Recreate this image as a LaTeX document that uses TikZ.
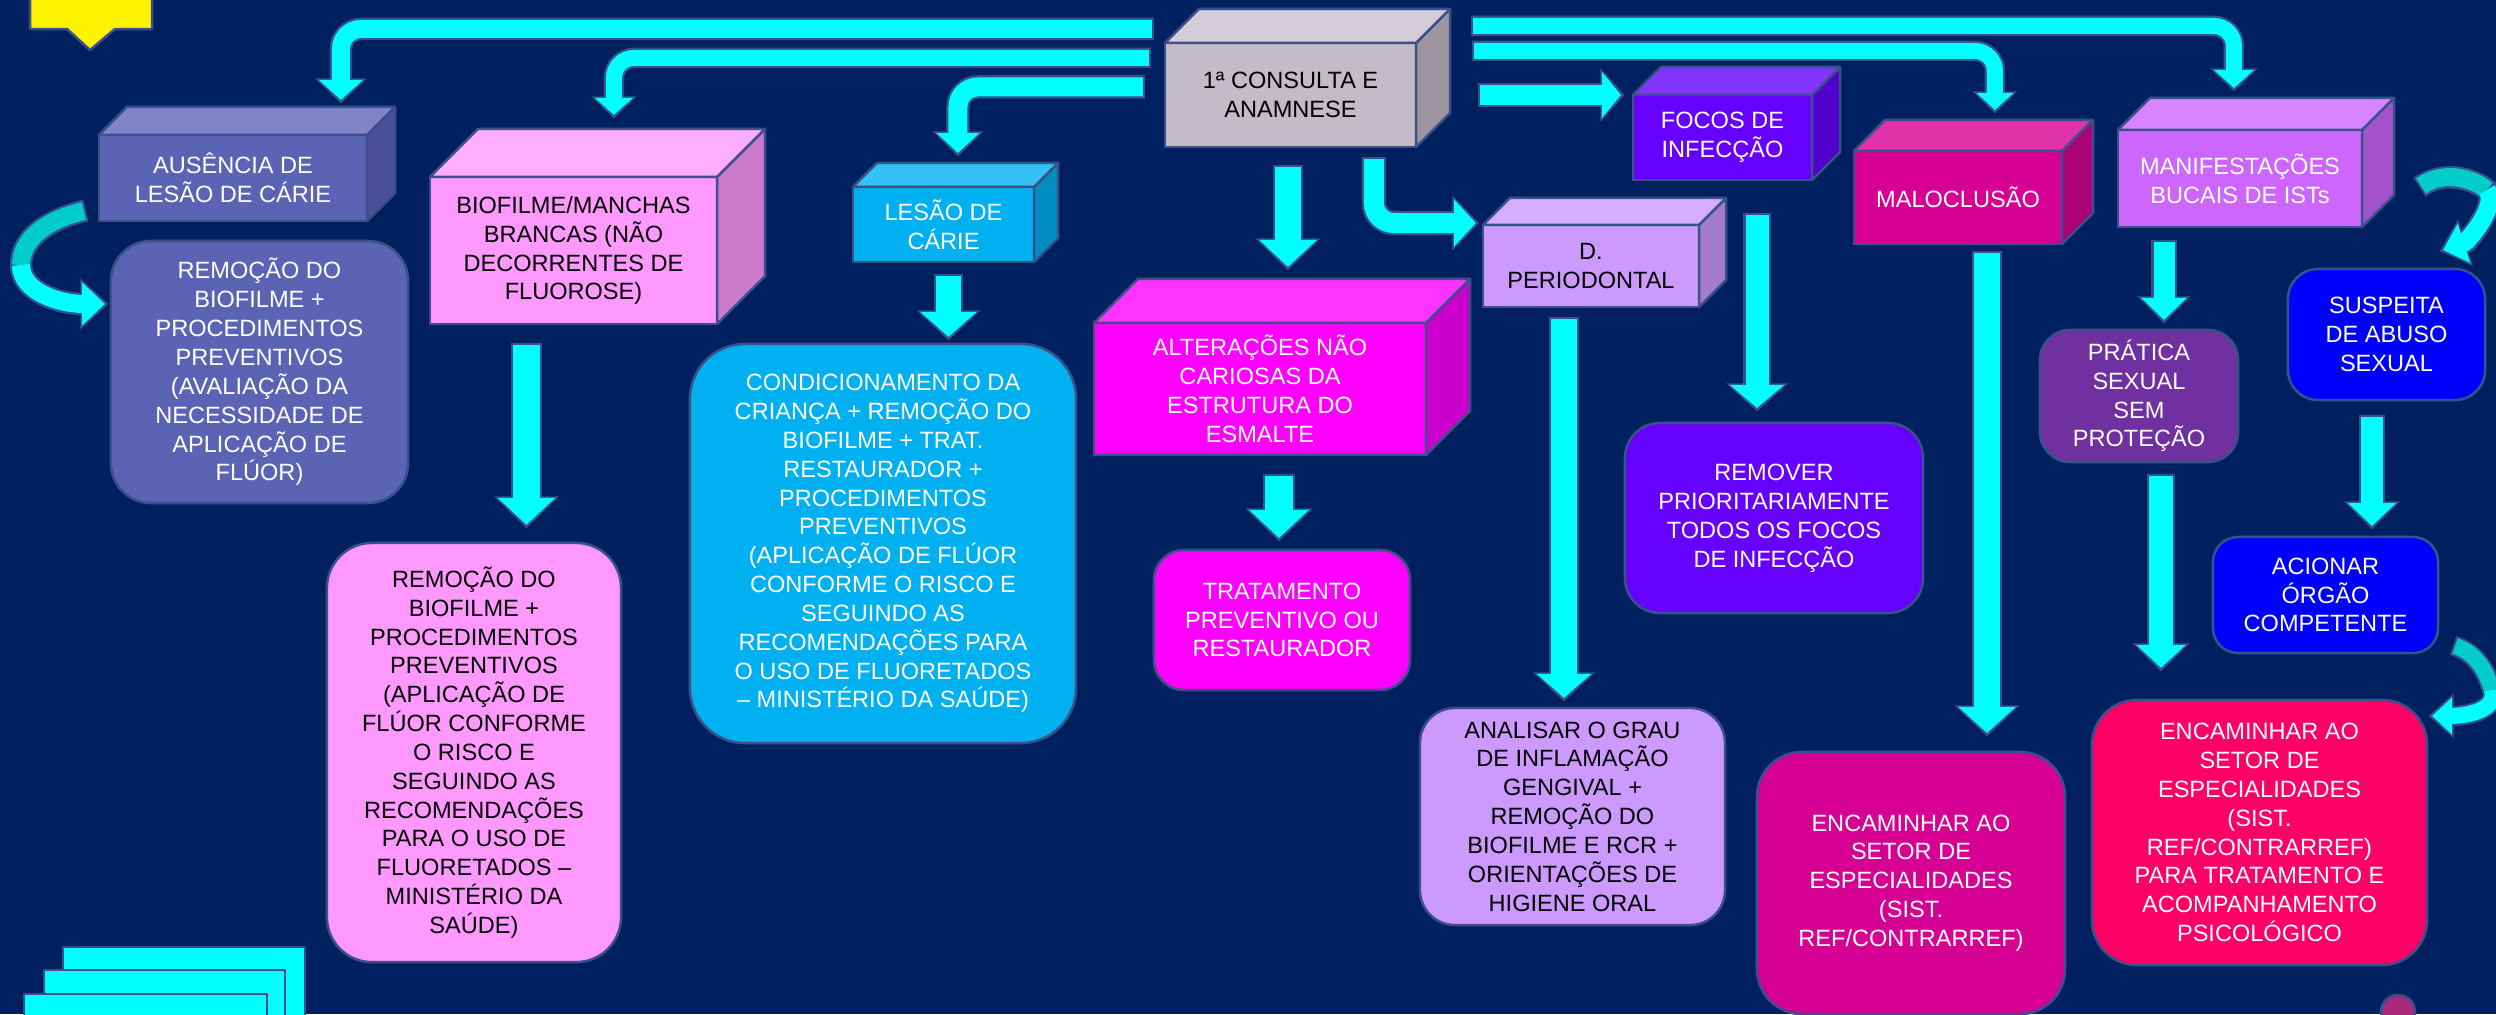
\documentclass[tikz,border=0pt]{standalone}
\usepackage{fontspec}
\setmainfont{Liberation Sans}
\usetikzlibrary{arrows.meta}

\definecolor{bg}{HTML}{002060}
\definecolor{outl}{HTML}{3A5089}
\definecolor{arrowcyan}{HTML}{00FFFF}
\definecolor{arrowteal}{HTML}{00CCCC}
\definecolor{ausF}{HTML}{5B63B5}\definecolor{ausT}{HTML}{7F85C8}\definecolor{ausS}{HTML}{4A5096}
\definecolor{bioF}{HTML}{FF99FF}\definecolor{bioT}{HTML}{FFADFF}\definecolor{bioS}{HTML}{CC7ACC}
\definecolor{lesF}{HTML}{00B0F0}\definecolor{lesT}{HTML}{33C0F3}\definecolor{lesS}{HTML}{008DC0}
\definecolor{conF}{HTML}{C3BBC6}\definecolor{conT}{HTML}{D4CCD7}\definecolor{conS}{HTML}{9D96A0}
\definecolor{altF}{HTML}{FF00FF}\definecolor{altT}{HTML}{FF33FF}\definecolor{altS}{HTML}{CC00CC}
\definecolor{perF}{HTML}{CC99FF}\definecolor{perT}{HTML}{D6ADFF}\definecolor{perS}{HTML}{A37ACC}
\definecolor{focF}{HTML}{6600FF}\definecolor{focT}{HTML}{8533FF}\definecolor{focS}{HTML}{5200CC}
\definecolor{malF}{HTML}{D60093}\definecolor{malT}{HTML}{DE33A9}\definecolor{malS}{HTML}{AB0076}
\definecolor{manF}{HTML}{CC66FF}\definecolor{manT}{HTML}{D685FF}\definecolor{manS}{HTML}{A352CC}
\definecolor{praF}{HTML}{7030A0}
\definecolor{encRF}{HTML}{FF0066}
\definecolor{bluF}{HTML}{0000FF}
\definecolor{dotc}{HTML}{AA2878}

\tikzset{
  lbl/.style={draw=outl, line width=0.25mm, inner sep=0pt, outer sep=0pt,
    align=center, font=\fontsize{6.7pt}{8.2pt}\selectfont},
  plate/.style={draw=outl, line width=0.25mm, line join=round},
}

% top and right faces of a box drawn behind a front-face node
\newcommand\cubesides[4]{%
  \draw[plate, fill=#3] (#1.north west) -- ++(#2,-#2)
    -- ([shift={(#2,-#2)}]#1.north east) -- (#1.north east) -- cycle;
  \draw[plate, fill=#4] (#1.north east) -- ([shift={(#2,-#2)}]#1.north east)
    -- ([shift={(#2,-#2)}]#1.south east) -- (#1.south east) -- cycle;}

% block arrow: shaft width, head width, head length (px), path
\newcommand\fatarrow[4]{%
  \pgfmathsetlengthmacro\faSW{#1*0.1mm}%
  \pgfmathsetlengthmacro\faSWo{#1*0.1mm+0.45mm}%
  \pgfmathsetlengthmacro\faHW{#2*0.1mm}%
  \pgfmathsetlengthmacro\faHWo{#2*0.1mm+0.7mm}%
  \pgfmathsetlengthmacro\faHL{#3*0.1mm}%
  \pgfmathsetlengthmacro\faHLo{#3*0.1mm+0.5mm}%
  \draw[outl, line width=\faSWo, rounded corners=2mm,
    -{Triangle[width=\faHWo,length=\faHLo]}, shorten >=-0.35mm, shorten <=-0.2mm] #4;
  \draw[arrowcyan, line width=\faSW, rounded corners=2mm,
    -{Triangle[width=\faHW,length=\faHL]}] #4;}

\begin{document}
\begin{tikzpicture}[x=0.01cm, y=-0.01cm]
\path[use as bounding box] (0,0) rectangle (2496,1014);
\clip (0,0) rectangle (2496,1014);
\fill[bg] (0,0) rectangle (2496,1014);

% corner decorations
\draw[plate, fill=yellow] (30,-10) -- (30,29) -- (67,29) -- (90,50) -- (115,29) -- (152,29) -- (152,-10) -- cycle;
\draw[plate, fill=arrowcyan] (63,947) rectangle (305,1030);
\draw[plate, fill=arrowcyan] (44,970) rectangle (285,1030);
\draw[plate, fill=arrowcyan] (24,994) rectangle (267,1030);
\draw[plate, fill=dotc] (2398,1012) circle[radius=1.7mm];

% ---------- boxes ----------
\node[lbl, fill=conF, text=black, minimum width=2.51cm, minimum height=1.04cm] (consulta) at (1290.5,95) {1ª CONSULTA E\\ANAMNESE};
\cubesides{consulta}{34}{conT}{conS}

\node[lbl, fill=ausF, text=white, minimum width=2.68cm, minimum height=0.86cm] (ausencia) at (233,178) {AUSÊNCIA DE\\LESÃO DE CÁRIE};
\cubesides{ausencia}{28}{ausT}{ausS}
\node[lbl, fill=ausF, text=white, rounded corners=4mm, minimum width=2.97cm, minimum height=2.62cm] (remA) at (259.5,372)
  {REMOÇÃO DO\\BIOFILME +\\PROCEDIMENTOS\\PREVENTIVOS\\(AVALIAÇÃO DA\\NECESSIDADE DE\\APLICAÇÃO DE\\FLÚOR)};

\node[lbl, fill=bioF, text=black, minimum width=2.87cm, minimum height=1.47cm] (biofilme) at (573.5,250.5) {BIOFILME/MANCHAS\\BRANCAS (NÃO\\DECORRENTES DE\\FLUOROSE)};
\cubesides{biofilme}{48}{bioT}{bioS}
\node[lbl, fill=bioF, text=black, rounded corners=4.5mm, minimum width=2.94cm, minimum height=4.19cm] (remB) at (474,752.5)
  {REMOÇÃO DO\\BIOFILME +\\PROCEDIMENTOS\\PREVENTIVOS\\(APLICAÇÃO DE\\FLÚOR CONFORME\\O RISCO E\\SEGUINDO AS\\RECOMENDAÇÕES\\PARA O USO DE\\FLUORETADOS –\\MINISTÉRIO DA\\SAÚDE)};

\node[lbl, fill=lesF, text=white, minimum width=1.81cm, minimum height=0.75cm] (lesao) at (943.5,224.5) {LESÃO DE\\CÁRIE};
\cubesides{lesao}{24}{lesT}{lesS}
\node[lbl, fill=lesF, text=white, rounded corners=5.5mm, minimum width=3.86cm, minimum height=3.99cm] (condic) at (883,543.5)
  {CONDICIONAMENTO DA\\CRIANÇA + REMOÇÃO DO\\BIOFILME + TRAT.\\RESTAURADOR +\\PROCEDIMENTOS\\PREVENTIVOS\\(APLICAÇÃO DE FLÚOR\\CONFORME O RISCO E\\SEGUINDO AS\\RECOMENDAÇÕES PARA\\O USO DE FLUORETADOS\\– MINISTÉRIO DA SAÚDE)};

\node[lbl, fill=altF, text=white, minimum width=3.32cm, minimum height=1.32cm] (alter) at (1260,389) {ALTERAÇÕES NÃO\\CARIOSAS DA\\ESTRUTURA DO\\ESMALTE};
\cubesides{alter}{44}{altT}{altS}
\node[lbl, fill=altF, text=white, rounded corners=3mm, minimum width=2.56cm, minimum height=1.40cm] (tratam) at (1282,620) {TRATAMENTO\\PREVENTIVO OU\\RESTAURADOR};

\node[lbl, fill=perF, text=black, minimum width=2.16cm, minimum height=0.82cm] (perio) at (1591,266) {D.\\PERIODONTAL};
\cubesides{perio}{27}{perT}{perS}
\node[lbl, fill=perF, text=black, rounded corners=3.5mm, minimum width=3.05cm, minimum height=2.17cm] (analis) at (1572.5,816.5)
  {ANALISAR O GRAU\\DE INFLAMAÇÃO\\GENGIVAL +\\REMOÇÃO DO\\BIOFILME E RCR +\\ORIENTAÇÕES DE\\HIGIENE ORAL};

\node[lbl, fill=focF, text=white, minimum width=1.79cm, minimum height=0.85cm] (focos) at (1722.5,137.5) {FOCOS DE\\INFECÇÃO};
\cubesides{focos}{28}{focT}{focS}
\node[lbl, fill=focF, text=white, rounded corners=3.5mm, minimum width=2.98cm, minimum height=1.90cm] (remov) at (1774,518)
  {REMOVER\\PRIORITARIAMENTE\\TODOS OS FOCOS\\DE INFECÇÃO};

\node[lbl, fill=malF, text=white, minimum width=2.08cm, minimum height=0.93cm] (maloc) at (1958,197.5) {MALOCLUSÃO};
\cubesides{maloc}{31}{malT}{malS}
\node[lbl, fill=malF, text=white, rounded corners=4.5mm, minimum width=3.08cm, minimum height=2.62cm] (encM) at (1911,883)
  {ENCAMINHAR AO\\SETOR DE\\ESPECIALIDADES\\(SIST.\\REF/CONTRARREF)};

\node[lbl, fill=manF, text=white, minimum width=2.44cm, minimum height=0.97cm] (manif) at (2240,178.5) {MANIFESTAÇÕES\\BUCAIS DE ISTs};
\cubesides{manif}{32}{manT}{manS}
\node[lbl, fill=praF, text=white, rounded corners=3mm, minimum width=1.98cm, minimum height=1.32cm] (pratica) at (2139,396) {PRÁTICA\\SEXUAL\\SEM\\PROTEÇÃO};
\node[lbl, fill=encRF, text=white, rounded corners=4.5mm, minimum width=3.35cm, minimum height=2.65cm] (encR) at (2259.5,832.5)
  {ENCAMINHAR AO\\SETOR DE\\ESPECIALIDADES\\(SIST.\\REF/CONTRARREF)\\PARA TRATAMENTO E\\ACOMPANHAMENTO\\PSICOLÓGICO};
\node[lbl, fill=bluF, text=white, rounded corners=3mm, minimum width=1.97cm, minimum height=1.31cm] (suspeita) at (2386.5,334.5) {SUSPEITA\\DE ABUSO\\SEXUAL};
\node[lbl, fill=bluF, text=white, rounded corners=2.5mm, minimum width=2.25cm, minimum height=1.16cm] (acionar) at (2325.5,595) {ACIONAR\\ÓRGÃO\\COMPETENTE};

% ---------- arrows from the first consultation ----------
\fatarrow{18}{43}{20}{([shift={(-13,-14)}]consulta.north west) -| ([shift={(242,-35)}]ausencia.north west)}
\fatarrow{16}{37}{17}{([shift={(-16,15)}]consulta.north west) -| ([shift={(184,-62)}]biofilme.north west)}
\fatarrow{19}{42}{20}{([shift={(-22,44)}]consulta.north west) -| ([shift={(105,-34)}]lesao.north west)}
\fatarrow{26}{56}{27}{([shift={(-2.5,20)}]consulta.south) -- ([shift={(28,-56)}]alter.north)}
\fatarrow{20}{46}{22}{([shift={(209,12)}]consulta.south west) |- ([shift={(-7,-43)}]perio.west)}
\fatarrow{20}{45}{19}{([shift={(64,0)}]consulta.east) -- ([shift={(-12,-42.5)}]focos.west)}
\fatarrow{16}{39}{18}{([shift={(57,-17)}]consulta.north east) -| ([shift={(116,-42)}]manif.north west)}
\fatarrow{16}{36}{17}{([shift={(58,8)}]consulta.north east) -| ([shift={(141,-41)}]maloc.north west)}

% ---------- downward arrows ----------
\fatarrow{27}{56}{27}{([shift={(-47,21)}]biofilme.south) -- ([shift={(52.5,-18)}]remB.north)}
\fatarrow{25}{55}{25}{([shift={(5,14)}]lesao.south) -- ([shift={(65.5,-7)}]condic.north)}
\fatarrow{28}{58}{28}{([shift={(19,21)}]alter.south) -- ([shift={(-3,-12)}]tratam.north)}
\fatarrow{26}{53}{24}{([shift={(-27,12)}]perio.south) -- ([shift={(-8.5,-10)}]analis.north)}
\fatarrow{23}{53}{23}{([shift={(34.5,35)}]focos.south) -- ([shift={(-17,-15)}]remov.north)}
\fatarrow{26}{56}{26}{([shift={(29,9)}]maloc.south) -- ([shift={(76,-19)}]encM.north)}
\fatarrow{21}{44}{22}{([shift={(-76,15)}]manif.south) -- ([shift={(25,-10)}]pratica.north)}
\fatarrow{24}{48}{23}{([shift={(22,14)}]pratica.south) -- ([shift={(-98.5,-32)}]encR.north)}
\fatarrow{22}{47}{23}{([shift={(-14.5,17)}]suspeita.south) -- ([shift={(46.5,-11)}]acionar.north)}

% ---------- curved arrows ----------
\coordinate (curlAs) at ([shift={(-15,-10)}]ausencia.south west);
\coordinate (curlAm) at (21,265);
\coordinate (curlAe) at ([shift={(-6,63)}]remA.north west);
\draw[outl, line width=2.25mm, -{Triangle[width=4.9mm,length=2.8mm]}, shorten >=-0.35mm, shorten <=-0.2mm]
  (curlAs) .. controls +(-39,9) and +(0,-25) .. (curlAm) .. controls +(0,27) and +(-45,0) .. (curlAe);
\draw[arrowteal, line width=1.8mm] (curlAs) .. controls +(-39,9) and +(0,-25) .. (curlAm);
\draw[arrowcyan, line width=1.8mm, -{Triangle[width=4.2mm,length=2.3mm]}] (curlAm) .. controls +(0,27) and +(-45,0) .. (curlAe);

\coordinate (curlBs) at ([shift={(59,7.5)}]manif.east);
\coordinate (curlBm) at (2487,190);
\coordinate (curlBe) at ([shift={(-42,-19)}]suspeita.north east);
\draw[outl, line width=2.25mm, -{Triangle[width=4.7mm,length=2.7mm]}, shorten >=-0.35mm, shorten <=-0.2mm]
  (curlBs) .. controls +(22,-16) and +(-14,-12) .. (curlBm) .. controls +(12,14) and +(25,-8) .. (curlBe);
\draw[arrowteal, line width=1.8mm] (curlBs) .. controls +(22,-16) and +(-14,-12) .. (curlBm);
\draw[arrowcyan, line width=1.8mm, -{Triangle[width=4.0mm,length=2.2mm]}] (curlBm) .. controls +(12,14) and +(25,-8) .. (curlBe);

\coordinate (curlCs) at ([shift={(17,-7)}]acionar.south east);
\coordinate (curlCm) at (2492,690);
\coordinate (curlCe) at ([shift={(5,16)}]encR.north east);
\draw[outl, line width=2.0mm, -{Triangle[width=4.3mm,length=2.5mm]}, shorten >=-0.35mm, shorten <=-0.2mm]
  (curlCs) .. controls +(20,6) and +(-6,-20) .. (curlCm) .. controls +(6,20) and +(35,0) .. (curlCe);
\draw[arrowteal, line width=1.6mm] (curlCs) .. controls +(20,6) and +(-6,-20) .. (curlCm);
\draw[arrowcyan, line width=1.6mm, -{Triangle[width=3.6mm,length=2.0mm]}] (curlCm) .. controls +(6,20) and +(35,0) .. (curlCe);
\end{tikzpicture}
\end{document}
